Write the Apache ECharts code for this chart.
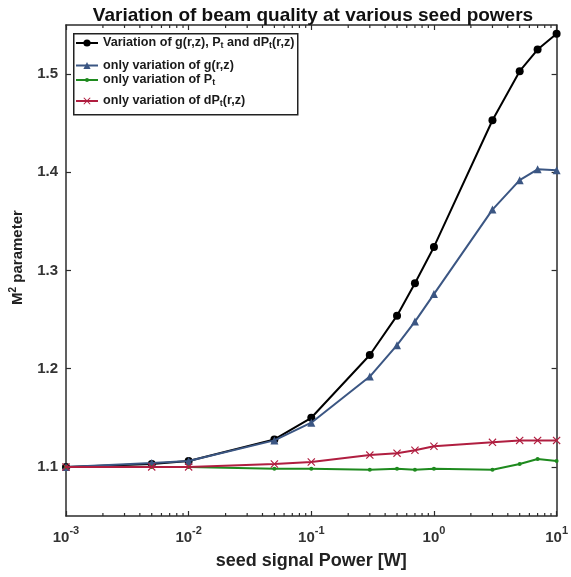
<!DOCTYPE html>
<html>
<head>
<meta charset="utf-8">
<script src="https://cdn.jsdelivr.net/npm/echarts@6/dist/echarts.min.js"></script>
<style>html,body{margin:0;padding:0;background:#fff;}#c{width:571px;height:577px;}</style>
</head>
<body>
<div id="c"></div>
<script>
// ---- data ----
const seedPower = [0.001, 0.005, 0.01, 0.05, 0.1, 0.3, 0.5, 0.7, 1, 3, 5, 7, 10];
const allVariation = [1.100, 1.103, 1.106, 1.128, 1.150, 1.214, 1.254, 1.287, 1.324, 1.453, 1.503, 1.525, 1.541];
const onlyG = [1.100, 1.104, 1.106, 1.127, 1.145, 1.192, 1.224, 1.248, 1.276, 1.362, 1.392, 1.403, 1.402];
const onlyPt = [1.100, 1.100, 1.100, 1.098, 1.098, 1.097, 1.098, 1.097, 1.098, 1.097, 1.103, 1.108, 1.106];
const onlyDPt = [1.100, 1.100, 1.100, 1.103, 1.105, 1.112, 1.114, 1.117, 1.121, 1.125, 1.127, 1.127, 1.127];
const yTickLabels = [1.1, 1.2, 1.3, 1.4, 1.5];
const seriesNames = ['Variation of g(r,z), Pt and dPt(r,z)', 'only variation of g(r,z)', 'only variation of Pt', 'only variation of dPt(r,z)'];
const legendLabels = [
  '{n|Variation of g(r,z), P}{s|t}{n| and dP}{s|t}{n|(r,z)}',
  '{n|only variation of g(r,z)}',
  '{n|only variation of P}{s|t}',
  '{n|only variation of dP}{s|t}{n|(r,z)}'
];
// minor ticks of the log axis (2..9 x 10^k)
const minorTicks = [];
for (let k = -3; k < 1; k++) for (let m = 2; m <= 9; m++) minorTicks.push(+(m * Math.pow(10, k)).toPrecision(3));

const FONT = 'Liberation Sans, Arial, Helvetica, sans-serif';
const AX = '#2b2b2b';
const colors = ['#000000', '#3b5683', '#1e8a1e', '#b01e40'];
const crossPath = 'path://M0,1L1,0L5,4L9,0L10,1L6,5L10,9L9,10L5,6L1,10L0,9L4,5Z';

const chart = echarts.init(document.getElementById('c'), null, {renderer: 'canvas'});

const legendTops = [32, 59, 69, 90];
const legendIconSizes = [9, 9, 5, 9];
const legends = seriesNames.map((nm, i) => ({
  data: [nm],
  orient: 'vertical',
  left: 75,
  top: legendTops[i],
  padding: 0,
  itemWidth: 22,
  itemHeight: legendIconSizes[i],
  itemGap: 4,
  selectedMode: false,
  formatter: () => legendLabels[i],
  textStyle: {
    fontFamily: FONT, fontWeight: 'bold', color: '#1a1a1a',
    rich: {
      n: {fontSize: 12.6, fontWeight: 'bold', fontFamily: FONT, color: '#1a1a1a', lineHeight: 14},
      s: {fontSize: 9, fontWeight: 'bold', fontFamily: FONT, color: '#1a1a1a', lineHeight: 14, verticalAlign: 'bottom', padding: [9, 0, 0, 0]}
    }
  }
}));

const option = {
  animation: false,
  backgroundColor: '#ffffff',
  title: {
    text: 'Variation of beam quality at various seed powers',
    left: 308, textAlign: 'center', top: 1,
    textStyle: {fontFamily: FONT, fontWeight: 'bold', fontSize: 19, color: '#111'}
  },
  legend: legends,
  graphic: [{
    type: 'rect', left: 73, top: 33, z: 0,
    shape: {width: 224, height: 81},
    style: {fill: '#fff', stroke: '#222', lineWidth: 1.5}
  }],
  grid: {left: 66, right: 14, top: 25, bottom: 61, containLabel: false},
  xAxis: [{
    type: 'log', logBase: 10, min: 0.001, max: 10,
    name: 'seed signal Power [W]', nameLocation: 'middle', nameGap: 36,
    nameTextStyle: {fontFamily: FONT, fontWeight: 'bold', fontSize: 18, color: '#222'},
    axisLine: {lineStyle: {color: AX, width: 1.5}},
    axisTick: {inside: true, length: 5, lineStyle: {color: AX, width: 1.2}},
    splitLine: {show: false},
    axisLabel: {
      margin: 9,
      formatter: v => '{b|10}{e|' + Math.round(Math.log10(v)) + '}',
      rich: {
        b: {fontFamily: FONT, fontSize: 15, fontWeight: 'bold', color: '#333', lineHeight: 20, verticalAlign: 'bottom'},
        e: {fontFamily: FONT, fontSize: 11, fontWeight: 'bold', color: '#333', lineHeight: 20, verticalAlign: 'top', padding: [0, 0, 8, 0]}
      }
    }
  }, {
    type: 'log', logBase: 10, min: 0.001, max: 10, position: 'top',
    axisLine: {lineStyle: {color: AX, width: 1.5}},
    axisTick: {inside: true, length: 5, lineStyle: {color: AX, width: 1.2}},
    axisLabel: {show: false}, splitLine: {show: false}
  }],
  yAxis: [{
    type: 'value', min: 1.05, max: 1.55,
    name: '{m|M}{s|2}{m| parameter}', nameLocation: 'middle', nameGap: 33, nameRotate: 90,
    nameTextStyle: {
      padding: [0, 0, 0, 26],
      rich: {
        m: {fontFamily: FONT, fontWeight: 'bold', fontSize: 15, color: '#222', lineHeight: 20},
        s: {fontFamily: FONT, fontWeight: 'bold', fontSize: 10, color: '#222', lineHeight: 20, verticalAlign: 'top', padding: [0, 0, 8, 0]}
      }
    },
    axisLine: {show: true, lineStyle: {color: AX, width: 1.5}},
    axisTick: {show: true, inside: true, length: 5, customValues: yTickLabels, lineStyle: {color: AX, width: 1.2}},
    axisLabel: {customValues: yTickLabels, formatter: v => v.toFixed(1), margin: 8,
      fontFamily: FONT, fontSize: 15, fontWeight: 'bold', color: '#333'},
    splitLine: {show: false}
  }, {
    type: 'value', min: 1.05, max: 1.55, position: 'right',
    axisLine: {show: true, lineStyle: {color: AX, width: 1.5}},
    axisTick: {show: true, inside: true, length: 5, customValues: yTickLabels, lineStyle: {color: AX, width: 1.2}},
    axisLabel: {show: false}, splitLine: {show: false}
  }],
  series: [
    {
      name: seriesNames[0], type: 'line', data: seedPower.map((x, i) => [x, allVariation[i]]),
      color: colors[0], symbol: 'circle', symbolSize: 8, lineStyle: {width: 2}, z: 3
    },
    {
      name: seriesNames[1], type: 'line', data: seedPower.map((x, i) => [x, onlyG[i]]),
      color: colors[1], symbol: 'triangle', symbolSize: 8, lineStyle: {width: 2}, z: 4
    },
    {
      name: seriesNames[2], type: 'line', data: seedPower.map((x, i) => [x, onlyPt[i]]),
      color: colors[2], symbol: 'circle', symbolSize: 4, lineStyle: {width: 2}, z: 5
    },
    {
      name: seriesNames[3], type: 'line', data: seedPower.map((x, i) => [x, onlyDPt[i]]),
      color: colors[3], symbol: crossPath, symbolSize: 8, lineStyle: {width: 2}, z: 6
    },
    {
      type: 'custom', silent: true, data: minorTicks.map(v => [v]), z: 10,
      renderItem: (params, api) => {
        const x = api.coord([api.value(0), 1.3])[0];
        const cs = params.coordSys;
        const st = {stroke: AX, lineWidth: 1.2};
        return {type: 'group', children: [
          {type: 'line', shape: {x1: x, y1: cs.y + cs.height, x2: x, y2: cs.y + cs.height - 3}, style: st},
          {type: 'line', shape: {x1: x, y1: cs.y, x2: x, y2: cs.y + 3}, style: st}
        ]};
      }
    }
  ]
};
chart.setOption(option);
</script>
</body>
</html>
